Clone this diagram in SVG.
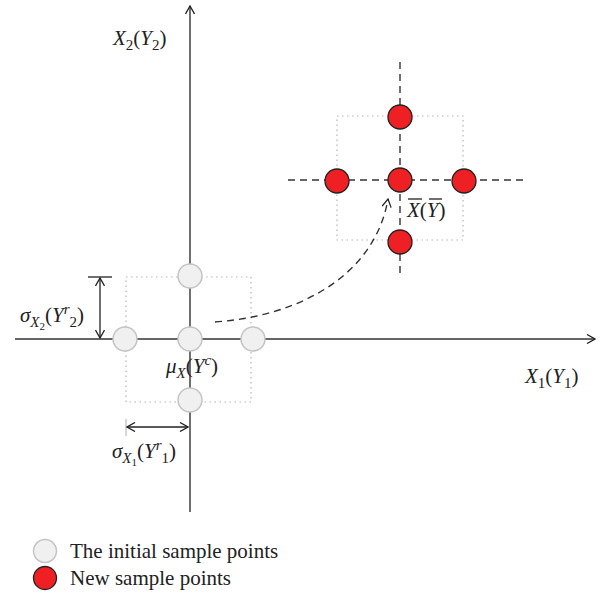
<svg xmlns="http://www.w3.org/2000/svg" width="603" height="595" viewBox="0 0 603 595">
<style>
.axis{stroke:#333;stroke-width:1.4;fill:none}
.dim{stroke:#222;stroke-width:1.3;fill:none}
.dot{stroke:#b5b5b5;stroke-width:1.2;fill:none;stroke-dasharray:1.5 3.5}
.dash{stroke:#333;stroke-width:1.4;fill:none;stroke-dasharray:7 5}
.gray{fill:#f0f0f0;stroke:#c4c4c4;stroke-width:1.5}
.red{fill:#ee2024;stroke:#222;stroke-width:1.3}
.m{font-family:"Liberation Serif",serif;font-style:italic;font-size:21px;fill:#222}
.r{font-style:normal}
.s{font-size:15px}
.ss{font-size:11px}
.leg{font-family:"Liberation Serif",serif;font-size:21px;fill:#222}
</style>
<defs>
<marker id="arr" viewBox="0 0 10 10" refX="9" refY="5" markerWidth="10" markerHeight="10" markerUnits="userSpaceOnUse" orient="auto-start-reverse">
<path d="M1,0.5 L9,5 L1,9.5" fill="none" stroke="#222" stroke-width="1.3"/>
</marker>
</defs>
<g id="connectors">
<line id="x-axis" class="axis" x1="15" y1="339" x2="595" y2="339" marker-end="url(#arr)"/>
<line id="y-axis" class="axis" x1="190" y1="512" x2="190" y2="6" marker-end="url(#arr)"/>
<rect class="dot" x="126" y="277" width="125" height="125"/>
<rect class="dot" x="337" y="116" width="126" height="124"/>
<line class="dash" x1="400" y1="62" x2="400" y2="276"/>
<line class="dash" x1="288" y1="180" x2="526" y2="180"/>
<path class="dash" d="M215,322 C300,316 375,275 388,199" marker-end="url(#arr)"/>
<line class="dim" x1="88" y1="277" x2="112" y2="277"/>
<line class="dim" x1="100" y1="278" x2="100" y2="338" marker-start="url(#arr)" marker-end="url(#arr)"/>
<line stroke="#bbb" stroke-width="1.2" x1="126" y1="419" x2="126" y2="436"/>
<line class="dim" x1="127" y1="427" x2="188" y2="427" marker-start="url(#arr)" marker-end="url(#arr)"/>
</g>
<g id="initial-points">
<circle class="gray" cx="190" cy="276" r="12"/>
<circle class="gray" cx="125" cy="339" r="12"/>
<circle class="gray" cx="190" cy="339" r="12"/>
<circle class="gray" cx="253" cy="339" r="12"/>
<circle class="gray" cx="190" cy="400" r="12"/>
</g>
<g id="new-points">
<circle class="red" cx="400" cy="117" r="12"/>
<circle class="red" cx="337" cy="181" r="12"/>
<circle class="red" cx="400" cy="180" r="12"/>
<circle class="red" cx="464" cy="181" r="12"/>
<circle class="red" cx="400" cy="242" r="12"/>
</g>
<g id="labels">
<text class="m" x="113" y="45">X<tspan class="r s" dy="5">2</tspan><tspan class="r" dy="-5">(</tspan>Y<tspan class="r s" dy="5">2</tspan><tspan class="r" dy="-5">)</tspan></text>
<text class="m" x="525" y="383">X<tspan class="r s" dy="5">1</tspan><tspan class="r" dy="-5">(</tspan>Y<tspan class="r s" dy="5">1</tspan><tspan class="r" dy="-5">)</tspan></text>
<text class="m" x="166" y="373">μ<tspan class="s" dy="5">X</tspan><tspan class="r" dy="-5">(</tspan>Y<tspan class="s" dy="-8">c</tspan><tspan class="r" dy="8">)</tspan></text>
<text class="m" x="20" y="322">σ<tspan class="s" dy="5">X</tspan><tspan class="r ss" dy="3">2</tspan><tspan class="r" dy="-8">(</tspan>Y<tspan class="s" dy="-8">r</tspan><tspan class="r s" dy="13">2</tspan><tspan class="r" dy="-5">)</tspan></text>
<text class="m" x="112" y="458">σ<tspan class="s" dy="5">X</tspan><tspan class="r ss" dy="3">1</tspan><tspan class="r" dy="-8">(</tspan>Y<tspan class="s" dy="-8">r</tspan><tspan class="r s" dy="13">1</tspan><tspan class="r" dy="-5">)</tspan></text>
<text class="m" x="407" y="217">X<tspan class="r">(</tspan>Y<tspan class="r">)</tspan></text>
<line stroke="#222" stroke-width="1.3" x1="408" y1="199" x2="422" y2="199"/>
<line stroke="#222" stroke-width="1.3" x1="429" y1="199" x2="442" y2="199"/>
</g>
<g id="legend">
<circle class="gray" cx="45" cy="551" r="11.5"/>
<text class="leg" x="70" y="558">The initial sample points</text>
<circle class="red" cx="45" cy="578" r="11.5"/>
<text class="leg" x="70" y="585">New sample points</text>
</g>
</svg>
